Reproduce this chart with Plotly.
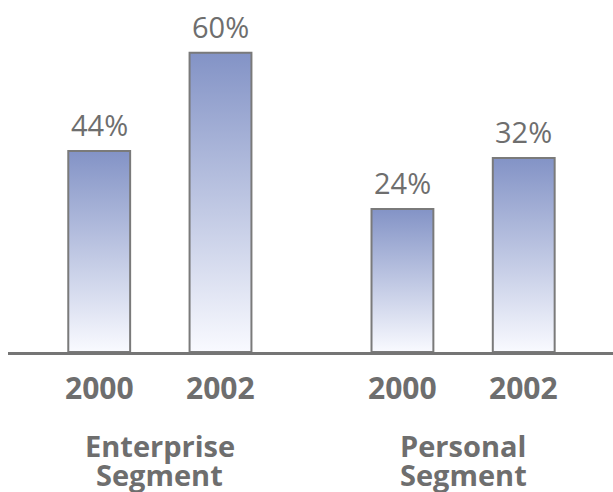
import plotly.graph_objects as go

# ---- data ----
years = ["2000", "2002", "2000", "2002"]
x_pos = [0.0, 1.0, 2.5, 3.5]
# drawn bar heights (same units as the axis)
heights = [40.3, 60.0, 28.7, 38.9]
labels = ["44%", "60%", "24%", "32%"]
group_line1 = ["Enterprise", "Personal"]
group_line2 = ["Segment", "Segment"]
group_x = [0.5, 3.0]

BAR_W = 0.51
TXT = "#6e6e6e"
FONT = "Open Sans"

fig = go.Figure()
for xc, h in zip(x_pos, heights):
    x0, x1 = xc - BAR_W / 2, xc + BAR_W / 2
    fig.add_trace(go.Scatter(
        x=[x0, x0, x1, x1, x0], y=[0, h, h, 0, 0],
        mode="lines", fill="toself",
        line=dict(color="#7a7a7a", width=2),
        fillgradient=dict(type="vertical", start=0, stop=h,
                          colorscale=[[0, "#f9faff"], [1, "#8393c6"]]),
        hoverinfo="skip", showlegend=False,
    ))

for xc, h, lab in zip(x_pos, heights, labels):
    fig.add_annotation(x=xc, y=h, text=lab, showarrow=False, yanchor="bottom",
                       yshift=5, font=dict(family=FONT, size=29, color=TXT))

for xc, yr in zip(x_pos, years):
    fig.add_annotation(x=xc, y=0, text="<b>%s</b>" % yr, showarrow=False,
                       yanchor="middle", yshift=-35,
                       font=dict(family=FONT, size=30, color=TXT))

for gx, g1, g2 in zip(group_x, group_line1, group_line2):
    fig.add_annotation(x=gx, y=0, text="<b>%s</b>" % g1, showarrow=False,
                       yanchor="top", yshift=-72,
                       font=dict(family=FONT, size=29, color=TXT))
    fig.add_annotation(x=gx, y=0, text="<b>%s</b>" % g2, showarrow=False,
                       yanchor="top", yshift=-101,
                       font=dict(family=FONT, size=29, color=TXT))

fig.update_layout(
    width=613, height=492,
    margin=dict(l=8, r=0, t=0, b=140),
    paper_bgcolor="white", plot_bgcolor="white",
    xaxis=dict(range=[-0.752, 4.236], showgrid=False, zeroline=False,
               showticklabels=False, showline=True, linecolor="#757575",
               linewidth=3),
    yaxis=dict(range=[0, 70.6], showgrid=False, zeroline=False,
               showticklabels=False, showline=False),
)

fig.write_html("out.html")
